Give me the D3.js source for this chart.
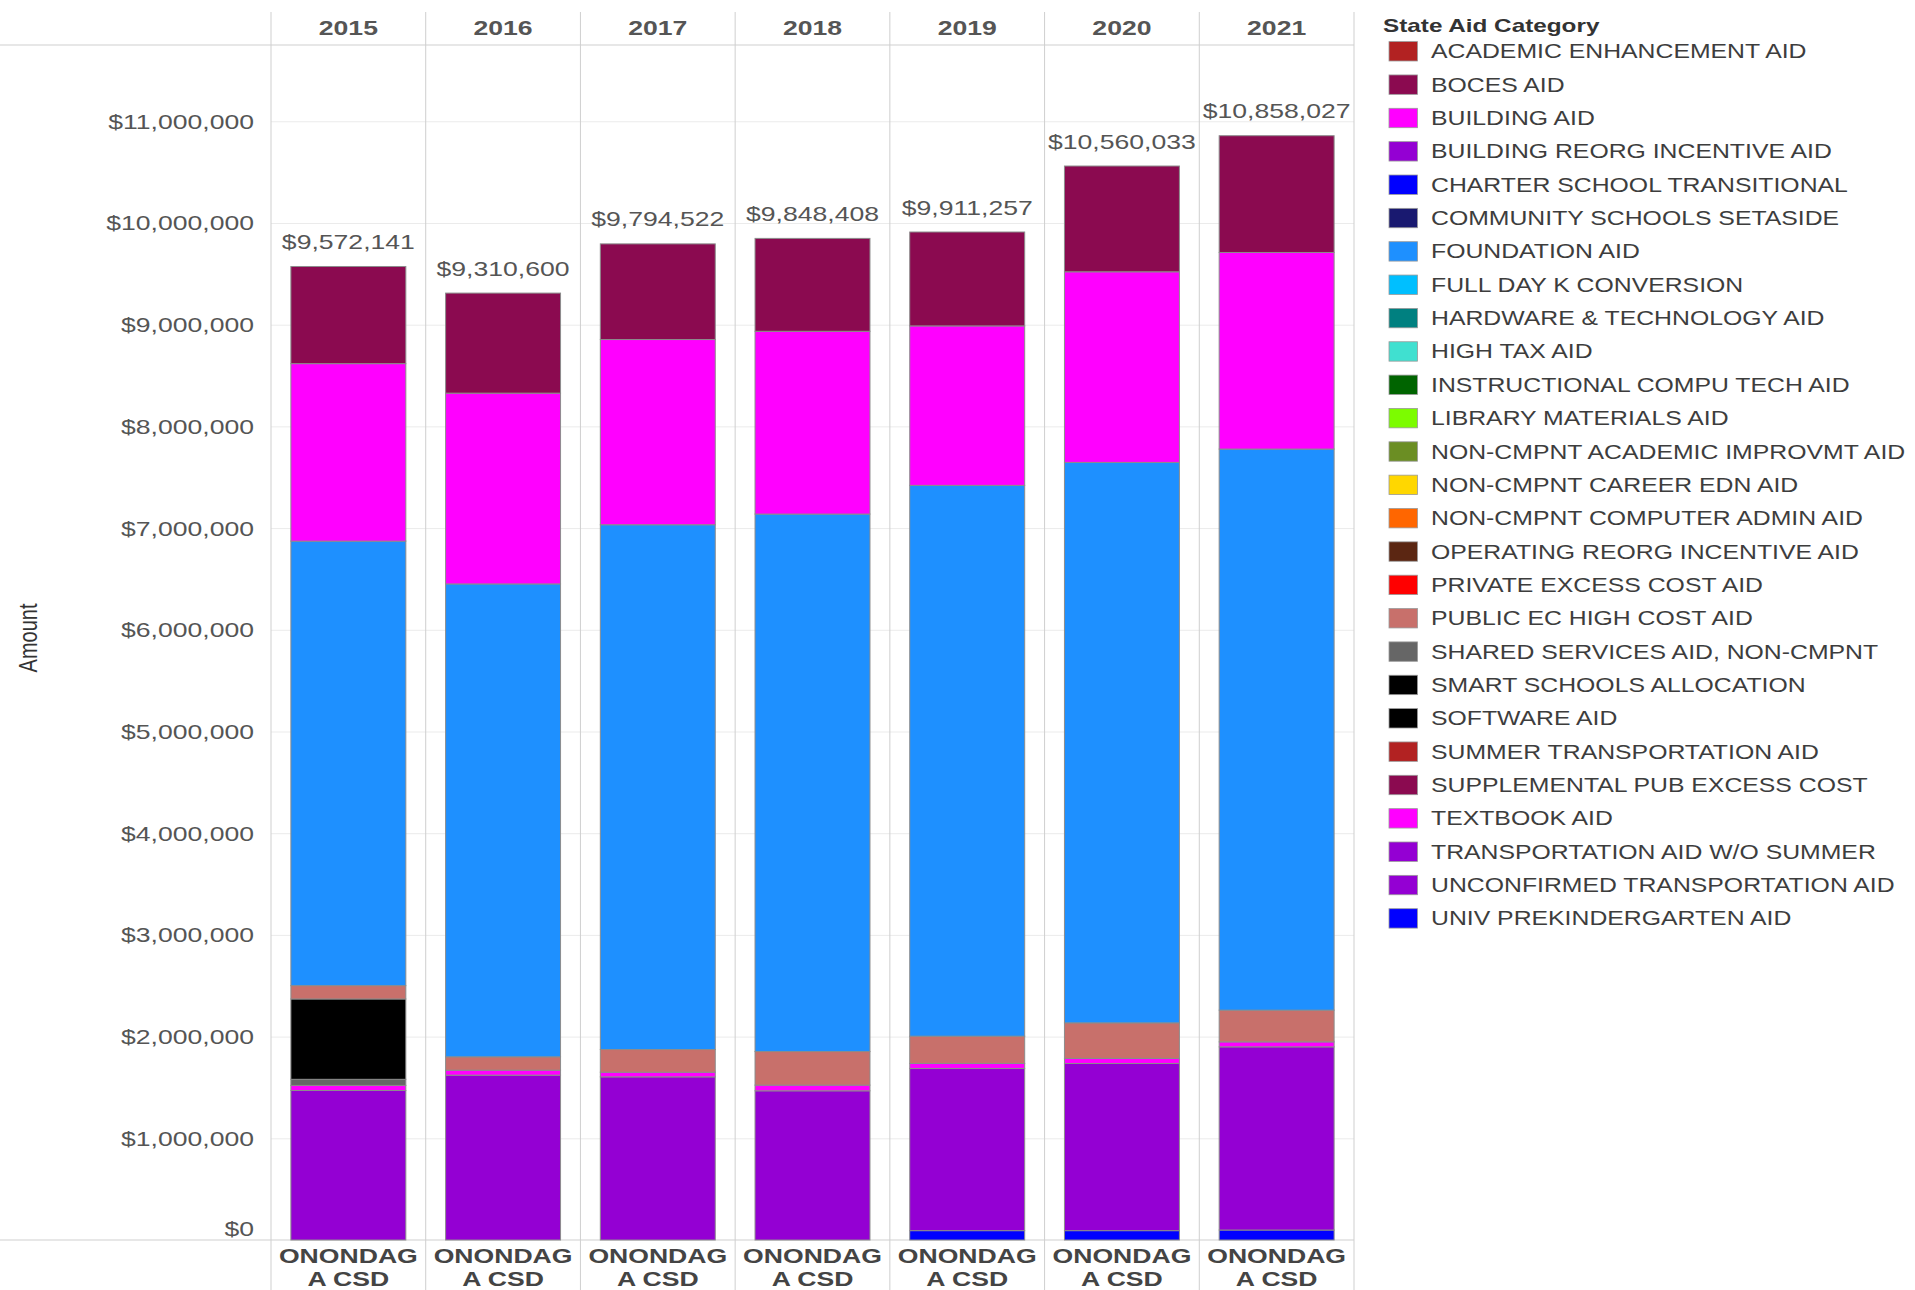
<!DOCTYPE html>
<html>
<head>
<meta charset="utf-8">
<script src="https://cdn.jsdelivr.net/npm/d3@7"></script>
<style>
  body { margin: 0; background: #fff; }
  svg { display: block; font-family: "Liberation Sans", Arial, sans-serif; }
</style>
</head>
<body>
<svg id="chart"></svg>
<script>
// columns (years) and the district shown under each bar
var years = ["2015", "2016", "2017", "2018", "2019", "2020", "2021"];
var districtLines = ["ONONDAG", "A CSD"];

// y ticks
var yTicks = [0, 1000000, 2000000, 3000000, 4000000, 5000000, 6000000, 7000000, 8000000, 9000000, 10000000, 11000000];

// legend (State Aid Category) and its colours
var categories = [
  "ACADEMIC ENHANCEMENT AID", "BOCES AID", "BUILDING AID", "BUILDING REORG INCENTIVE AID",
  "CHARTER SCHOOL TRANSITIONAL", "COMMUNITY SCHOOLS SETASIDE", "FOUNDATION AID",
  "FULL DAY K CONVERSION", "HARDWARE & TECHNOLOGY AID", "HIGH TAX AID",
  "INSTRUCTIONAL COMPU TECH AID", "LIBRARY MATERIALS AID", "NON-CMPNT ACADEMIC IMPROVMT AID",
  "NON-CMPNT CAREER EDN AID", "NON-CMPNT COMPUTER ADMIN AID", "OPERATING REORG INCENTIVE AID",
  "PRIVATE EXCESS COST AID", "PUBLIC EC HIGH COST AID", "SHARED SERVICES AID, NON-CMPNT",
  "SMART SCHOOLS ALLOCATION", "SOFTWARE AID", "SUMMER TRANSPORTATION AID",
  "SUPPLEMENTAL PUB EXCESS COST", "TEXTBOOK AID", "TRANSPORTATION AID W/O SUMMER",
  "UNCONFIRMED TRANSPORTATION AID", "UNIV PREKINDERGARTEN AID"
];
var categoryColors = [
  "#b22222", "#8b0a50", "#ff00ff", "#9400d3",
  "#0000ff", "#191970", "#1e90ff",
  "#00bfff", "#008080", "#40e0d0",
  "#006400", "#7cfc00", "#6b8e23",
  "#ffd700", "#ff6600", "#5b2612",
  "#ff0000", "#c8706b", "#666666",
  "#000000", "#000000", "#b22222",
  "#8b0a50", "#ff00ff", "#9400d3",
  "#9400d3", "#0000ff"
];

// amounts per year, one array per category that has money
var univPrekAid        = [0, 0, 0, 0, 92000, 92000, 98000];
var transportationAid  = [1470000, 1621000, 1604000, 1467000, 1595000, 1644000, 1801000];
var textbookAid        = [50000, 49000, 46000, 56000, 49000, 49000, 49000];
var sharedServicesAid  = [60000, 0, 0, 0, 0, 0, 0];
var smartSchoolsAid    = [790000, 0, 0, 0, 0, 0, 0];
var publicEcAid        = [131000, 131000, 223000, 330000, 268000, 350000, 312000];
var foundationAid      = [4371000, 4650000, 5160000, 5285000, 5416000, 5511000, 5517000];
var buildingAid        = [1745000, 1876000, 1821000, 1797000, 1568000, 1874000, 1933000];
var bocesAid           = [955141, 983600, 940522, 913408, 923257, 1040033, 1148027];

// stacking order, bottom to top
var stackKeys = [
  "UNIV PREKINDERGARTEN AID", "TRANSPORTATION AID W/O SUMMER", "TEXTBOOK AID",
  "SHARED SERVICES AID, NON-CMPNT", "SMART SCHOOLS ALLOCATION", "PUBLIC EC HIGH COST AID",
  "FOUNDATION AID", "BUILDING AID", "BOCES AID"
];
var stackValues = [univPrekAid, transportationAid, textbookAid, sharedServicesAid,
  smartSchoolsAid, publicEcAid, foundationAid, buildingAid, bocesAid];

var width = 1915, height = 1290;
var pane = {left: 271, right: 1354, top: 45, bottom: 1240};
var sx = 1.33; // the picture is stretched sideways, so is its text

var svg = d3.select("#chart").attr("width", width).attr("height", height);

var color = d3.scaleOrdinal().domain(categories).range(categoryColors);

var table = years.map(function(yr, i){
  var row = {year: yr};
  stackKeys.forEach(function(k, j){ row[k] = stackValues[j][i]; });
  return row;
});
var series = d3.stack().keys(stackKeys)(table);
var totals = years.map(function(yr, i){
  return d3.sum(stackValues, function(arr){ return arr[i]; });
});

var cols = d3.scaleBand().domain(years).range([pane.left, pane.right]);
var x = d3.scaleBand().domain(years).range([pane.left, pane.right])
  .paddingInner(0.257).paddingOuter(0.1285);
var y = d3.scaleLinear().domain([0, 11750000]).range([pane.bottom, pane.top]);

function stretch(sel, tx, ty, s){
  sel.attr("transform", "translate(" + tx + "," + ty + ") scale(" + s + ",1)");
}

//Gridlines
svg.append("g")
  .attr("transform", "translate(" + pane.left + ",0)")
  .call(d3.axisLeft(y).tickValues(yTicks.slice(1)).tickSize(-(pane.right - pane.left)).tickFormat(""))
  .call(function(g){ g.select(".domain").remove(); })
  .selectAll("line").attr("stroke", "#ebebeb");

//Column dividers + header / base lines
svg.append("g").selectAll("line")
  .data(years.concat(["end"]))
  .enter().append("line")
    .attr("x1", function(d, i){ return pane.left + i * cols.step(); })
    .attr("x2", function(d, i){ return pane.left + i * cols.step(); })
    .attr("y1", 12).attr("y2", height)
    .attr("stroke", "#cfcfcf");

svg.append("line").attr("x1", 0).attr("x2", pane.right).attr("y1", pane.top).attr("y2", pane.top)
  .attr("stroke", "#cfcfcf");
svg.append("line").attr("x1", 0).attr("x2", pane.right).attr("y1", pane.bottom).attr("y2", pane.bottom)
  .attr("stroke", "#cfcfcf");

//Y axis labels
var yAxis = svg.append("g")
  .attr("transform", "translate(" + pane.left + ",0)")
  .call(d3.axisLeft(y).tickValues(yTicks).tickSize(0).tickFormat(d3.format("$,")));
yAxis.select(".domain").remove();
yAxis.selectAll("text")
  .attr("x", null).attr("dy", "0.35em")
  .style("font-size", "20px").style("font-family", "Liberation Sans, Arial, sans-serif")
  .attr("fill", "#555")
  .each(function(d){ stretch(d3.select(this), -17, d === 0 ? -12 : 0, sx); });

svg.append("text")
  .attr("transform", "translate(37,638) scale(" + sx + ",1) rotate(-90)")
  .attr("text-anchor", "middle")
  .style("font-size", "20px")
  .attr("fill", "#333")
  .text("Amount");

//Header years
svg.append("g").selectAll("text")
  .data(years)
  .enter().append("text")
    .attr("text-anchor", "middle").attr("dy", "0.35em")
    .style("font-size", "20px").style("font-weight", "bold")
    .attr("fill", "#555")
    .text(function(d){ return d; })
    .each(function(d){ stretch(d3.select(this), cols(d) + cols.bandwidth() / 2, 28, sx); });

//Bottom district labels
years.forEach(function(yr){
  districtLines.forEach(function(line, k){
    svg.append("text")
      .attr("text-anchor", "middle").attr("dy", "0.35em")
      .style("font-size", "20px").style("font-weight", "bold")
      .attr("fill", "#444")
      .text(line)
      .call(stretch, cols(yr) + cols.bandwidth() / 2, 1256 + k * 23, sx);
  });
});

//Stacked bars
svg.append("g").selectAll("g")
  .data(series)
  .enter().append("g")
    .attr("fill", function(d){ return color(d.key); })
  .selectAll("rect")
  .data(function(d){ return d; })
  .enter().append("rect")
    .filter(function(d){ return d[1] - d[0] > 0; })
    .attr("x", function(d){ return x(d.data.year); })
    .attr("width", x.bandwidth())
    .attr("y", function(d){ return y(d[1]); })
    .attr("height", function(d){ return y(d[0]) - y(d[1]); })
    .attr("stroke", "#8c8c8c")
    .attr("stroke-width", 1);

//Totals above bars
svg.append("g").selectAll("text")
  .data(years)
  .enter().append("text")
    .attr("text-anchor", "middle").attr("dy", "0.35em")
    .style("font-size", "20px")
    .attr("fill", "#555")
    .text(function(d, i){ return d3.format("$,")(totals[i]); })
    .each(function(d, i){ stretch(d3.select(this), x(d) + x.bandwidth() / 2, y(totals[i]) - 24.5, sx); });

//Legend
var legend = svg.append("g");
legend.append("text")
  .style("font-size", "18px").style("font-weight", "bold")
  .attr("fill", "#333")
  .text("State Aid Category")
  .call(stretch, 1383, 31.5, 1.35);

var item = legend.selectAll(".item")
  .data(categories)
  .enter().append("g")
    .attr("class", "item")
    .attr("transform", function(d, i){ return "translate(0," + (51.3 + i * 33.35) + ")"; });

item.append("rect")
  .attr("x", 1389).attr("y", -9.7)
  .attr("width", 28.5).attr("height", 19.4)
  .attr("fill", function(d){ return color(d); })
  .attr("stroke", "#9a9a9a").attr("stroke-width", 0.8);

item.append("text")
  .attr("dy", "0.35em")
  .style("font-size", "20px")
  .attr("fill", "#3d3d3d")
  .text(function(d){ return d; })
  .each(function(){ stretch(d3.select(this), 1431, 0, 1.24); });
</script>
</body>
</html>
